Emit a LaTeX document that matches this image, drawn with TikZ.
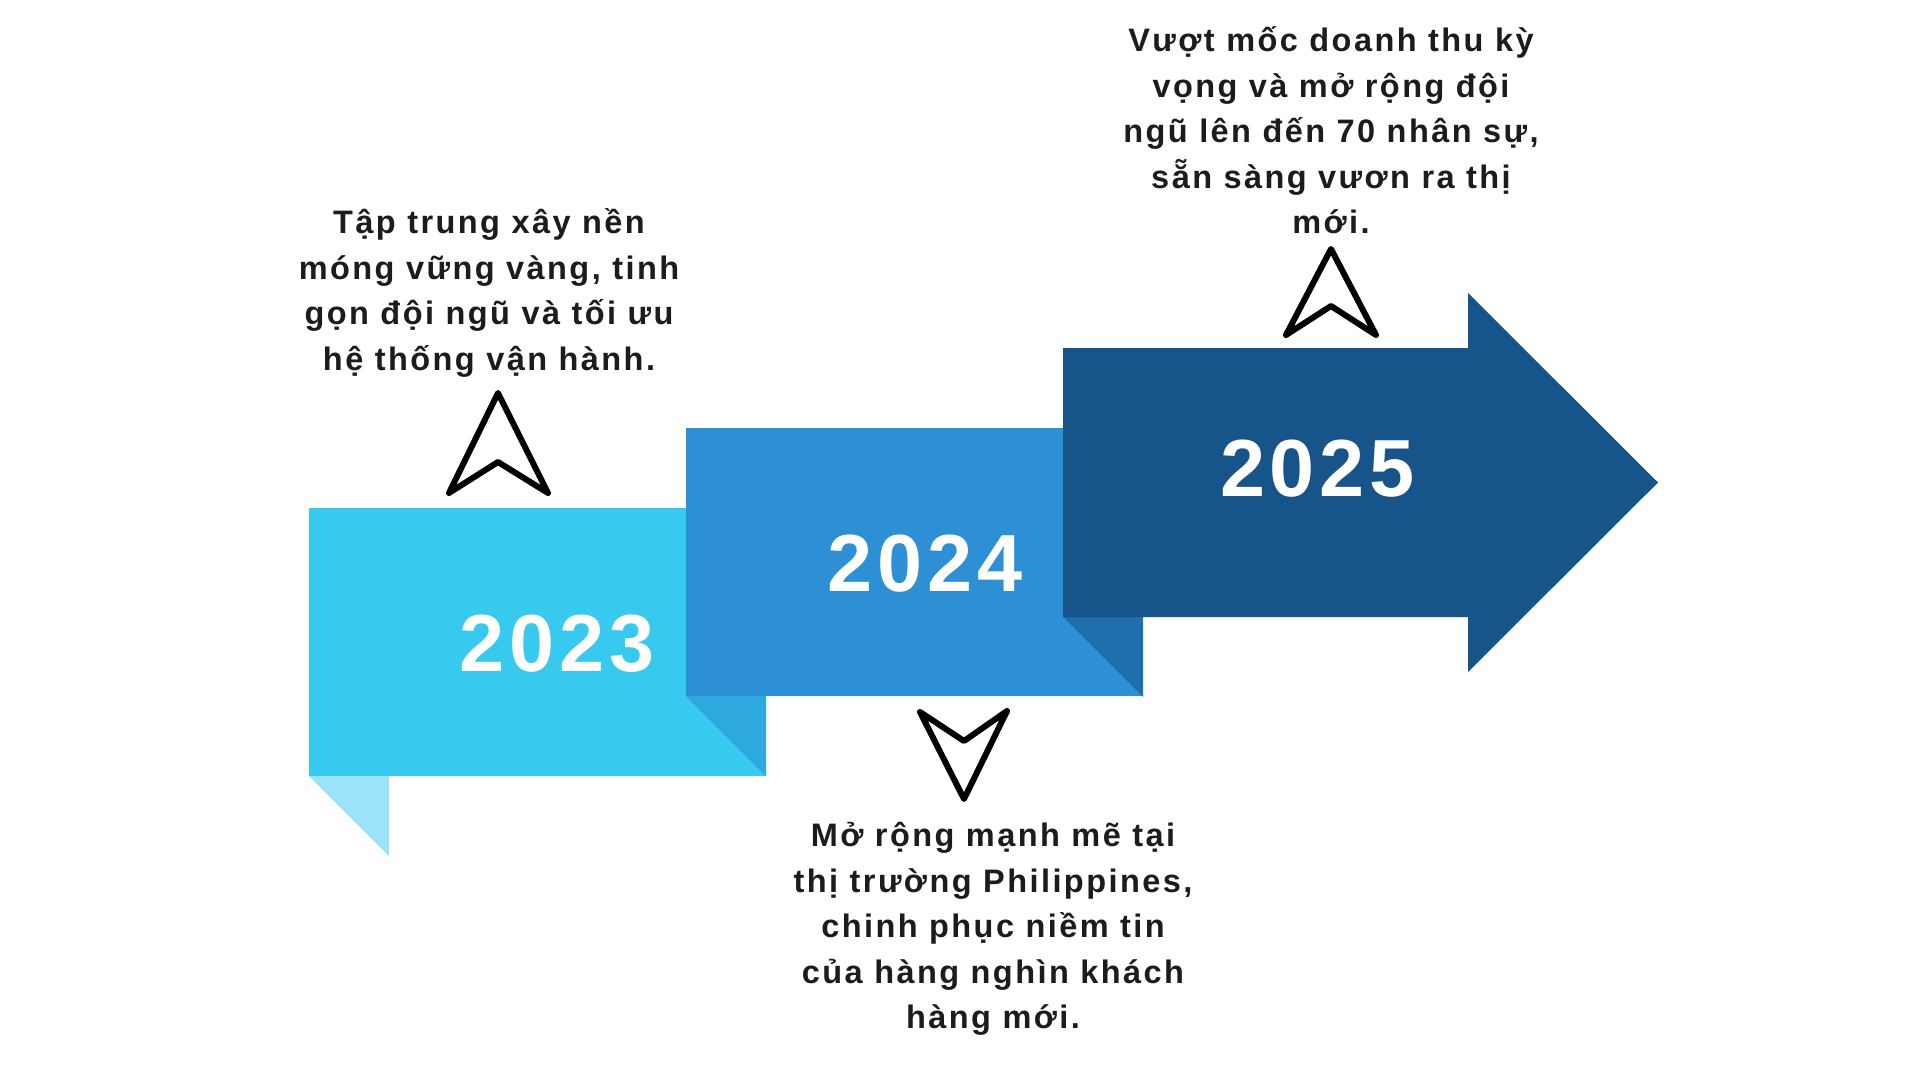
\documentclass[tikz,border=0pt]{standalone}
\usepackage{fontspec}
\setmainfont{Liberation Sans}[LetterSpace=6.0]
\newfontfamily\descfont{Liberation Sans}[LetterSpace=7.5]
\definecolor{cA}{HTML}{38C9EF}
\definecolor{cAfold}{HTML}{9BE3F7}
\definecolor{cB}{HTML}{2D90D5}
\definecolor{cBfold}{HTML}{2DA9DF}
\definecolor{cC}{HTML}{16548A}
\definecolor{cCfold}{HTML}{1F6EAE}
\definecolor{txt}{HTML}{1C1C1C}
\newcommand\firststrut{\rule{0pt}{36pt}}
\begin{document}
\begin{tikzpicture}[x=1pt,y=-1pt,
  year/.style={anchor=base,inner sep=0pt,text=white,font=\fontsize{81}{90}\selectfont\bfseries},
  desc/.style={anchor=north,inner sep=0pt,align=center,text=txt,font=\descfont\fontsize{32.5}{45.5}\selectfont\bfseries},
  nav/.style={draw=black,line width=6pt,line join=round,line cap=round}]
\useasboundingbox (0,0) rectangle (1920,1080);
\fill[white] (0,0) rectangle (1920,1080);
% 2023 strip
\fill[cA] (309,508) rectangle (766,776);
\fill[cAfold] (309,776) -- (389,776) -- (389,856) -- cycle;
% 2024 strip
\fill[cBfold] (686,696) -- (766,696) -- (766,776) -- cycle;
\fill[cB] (686,428) rectangle (1143,696);
% 2025 arrow
\fill[cCfold] (1063,617) -- (1143,617) -- (1143,697) -- cycle;
\fill[cC] (1063,348) -- (1468,348) -- (1468,293) -- (1658,482.5) -- (1468,672) -- (1468,617) -- (1063,617) -- cycle;
% years
\node[year] (y23) at (557,671.5) {2023};
\node[year] (y24) at (925,591) {2024};
\node[year] (y25) at (1317.5,496.7) {2025};
% navigation arrows
\coordinate (a1t) at (498,393);
\coordinate (a1r) at (548,493);
\coordinate (a1n) at (498,462);
\coordinate (a1l) at (449,493);
\draw[nav] (a1t) -- (a1r) -- (a1n) -- (a1l) -- cycle;
\coordinate (a2t) at (964,799);
\coordinate (a2r) at (1007,711);
\coordinate (a2n) at (964,741);
\coordinate (a2l) at (920,712);
\draw[nav] (a2t) -- (a2r) -- (a2n) -- (a2l) -- cycle;
\coordinate (a3t) at (1331,249);
\coordinate (a3r) at (1376,335);
\coordinate (a3n) at (1331,306);
\coordinate (a3l) at (1286,335);
\draw[nav] (a3t) -- (a3r) -- (a3n) -- (a3l) -- cycle;
% descriptions
\node[desc] (t23) at (489,197.3) {\firststrut Tập trung xây nền\\móng vững vàng, tinh\\gọn đội ngũ và tối ưu\\hệ thống vận hành.};
\node[desc] (t24) at (993,810.7) {\firststrut Mở rộng mạnh mẽ tại\\thị trường Philippines,\\chinh phục niềm tin\\của hàng nghìn khách\\hàng mới.};
\node[desc] (t25) at (1331,15.7) {\firststrut Vượt mốc doanh thu kỳ\\vọng và mở rộng đội\\ngũ lên đến 70 nhân sự,\\sẵn sàng vươn ra thị\\mới.};
\end{tikzpicture}
\end{document}
